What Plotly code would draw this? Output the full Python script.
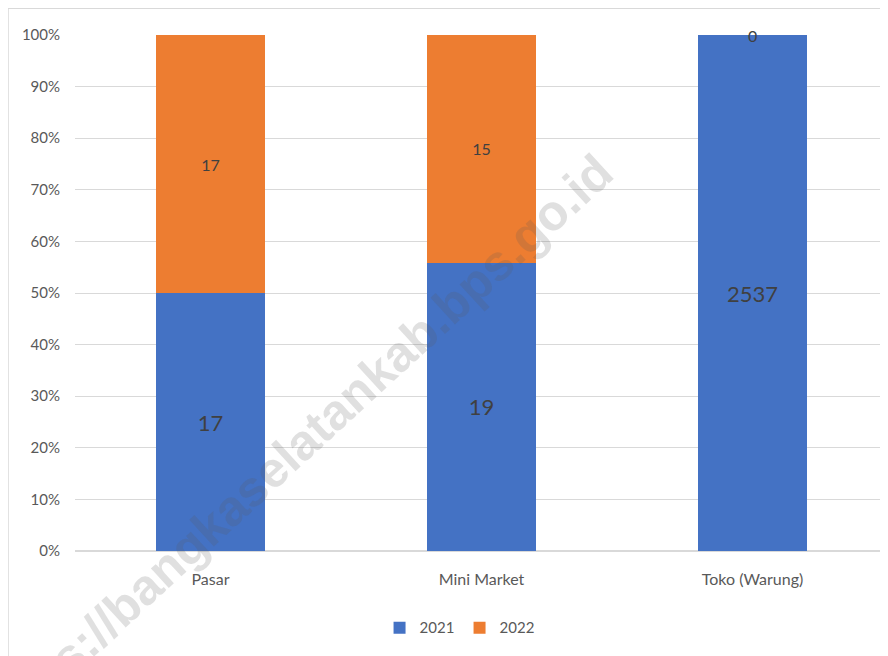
import plotly.graph_objects as go

categories = ["Pasar", "Mini Market", "Toko (Warung)"]
series_names = ["2021", "2022"]
values_2021 = [17, 19, 2537]
values_2022 = [17, 15, 0]
y_tick_values = [0, 10, 20, 30, 40, 50, 60, 70, 80, 90, 100]
y_tick_labels = [f"{v}%" for v in y_tick_values]

BLUE = "#4472C4"
ORANGE = "#ED7D31"
LABEL = "#404040"
AXIS_TXT = "#595959"
GRID = "#D9D9D9"
FONT = "Lato, Open Sans, Arial"

fig = go.Figure()
fig.add_trace(go.Bar(
    name=series_names[0], x=categories, y=values_2021,
    marker=dict(color=BLUE, line=dict(width=0)),
    text=[str(v) for v in values_2021], textposition="inside",
    insidetextanchor="middle",
    textfont=dict(size=22, color=LABEL, family=FONT),
))
fig.add_trace(go.Bar(
    name=series_names[1], x=categories, y=values_2022,
    marker=dict(color=ORANGE, line=dict(width=0)),
    text=[str(v) if v > 0 else "" for v in values_2022], textposition="inside",
    insidetextanchor="middle",
    textfont=dict(size=16, color=LABEL, family=FONT),
))

# labels for zero-height segments (drawn at their stacked position)
for c, a, b in zip(categories, values_2021, values_2022):
    if b == 0:
        fig.add_annotation(x=c, y=100 * (a + b) / (a + b), text=str(b), showarrow=False,
                           font=dict(size=16, color=LABEL, family=FONT),
                           xref="x", yref="y", yanchor="middle")

# chart frame (left & top edges visible)
fig.add_shape(type="rect", xref="paper", yref="paper",
              x0=-0.0824, y0=1.052, x1=1.1, y1=-0.3,
              line=dict(color=GRID, width=1.5), fillcolor="rgba(0,0,0,0)", layer="below")

# watermark
fig.add_annotation(text="https://bangkaselatankab.bps.go.id", xref="paper", yref="paper",
                   x=0.273, y=0.201, xanchor="center", yanchor="middle",
                   showarrow=False, textangle=-42.6,
                   font=dict(size=50, color="rgba(90,90,90,0.19)",
                             family="Liberation Sans, Arial", weight="bold"))

fig.update_layout(
    width=888, height=656,
    margin=dict(l=67, r=8, t=27, b=113),
    paper_bgcolor="white", plot_bgcolor="white",
    barmode="stack", barnorm="percent", bargap=0.6,
    font=dict(family=FONT, color=AXIS_TXT),
    showlegend=True,
    legend=dict(orientation="h", x=0.473, xanchor="center", y=-0.149, yanchor="middle",
                font=dict(size=15, color=AXIS_TXT, family=FONT),
                itemwidth=30, entrywidth=35, traceorder="normal"),
    xaxis=dict(showgrid=False, showline=False, ticks="", tickfont=dict(size=16, color=AXIS_TXT),
               ticklabelstandoff=17),
    yaxis=dict(range=[0, 100], tickvals=y_tick_values, ticktext=y_tick_labels,
               showgrid=True, gridcolor=GRID, gridwidth=1, zeroline=True, zerolinecolor=GRID,
               showline=False, ticks="", tickfont=dict(size=15, color=AXIS_TXT),
               ticklabelstandoff=14),
)

fig.write_html("out.html")
